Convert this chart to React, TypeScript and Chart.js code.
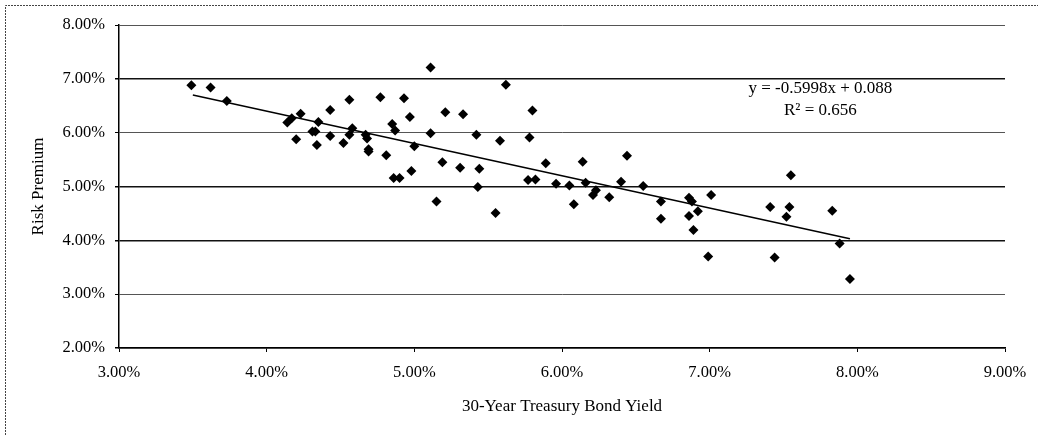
import React, { useEffect, useRef } from "react";
import { Chart, registerables } from "chart.js";

Chart.register(...registerables);

// Data (values in percent)
const bondYield = [
  3.49, 3.62, 3.73, 4.14, 4.17, 4.23, 4.2, 4.31, 4.33, 4.35, 4.34, 4.43, 4.43, 4.52, 4.56, 4.56,
  4.58, 4.67, 4.68, 4.69, 4.69, 4.77, 4.81, 4.85, 4.87, 4.93, 4.97, 5.0, 4.98, 4.86, 4.9, 5.11,
  5.11, 5.15, 5.19, 5.21, 5.31, 5.33, 5.42, 5.44, 5.43, 5.55, 5.58, 5.62, 5.78, 5.8, 5.77, 5.82,
  5.89, 5.96, 6.05, 6.08, 6.14, 6.16, 6.21, 6.23, 6.32, 6.4, 6.44, 6.55, 6.67, 6.67, 6.86, 6.88,
  6.92, 6.86, 6.89, 7.01, 6.99, 7.41, 7.44, 7.54, 7.52, 7.55, 7.83, 7.88, 7.95,
];
const riskPremium = [
  6.88, 6.84, 6.59, 6.19, 6.27, 6.35, 5.88, 6.02, 6.02, 6.2, 5.77, 6.42, 5.94, 5.81, 6.61, 5.96,
  6.08, 5.96, 5.89, 5.69, 5.65, 6.66, 5.58, 6.16, 6.04, 6.64, 6.29, 5.75, 5.29, 5.16, 5.16, 7.21,
  5.99, 4.72, 5.45, 6.38, 5.35, 6.34, 5.96, 5.33, 4.99, 4.51, 5.85, 6.89, 5.91, 6.41, 5.12, 5.13,
  5.43, 5.05, 5.02, 4.67, 5.46, 5.07, 4.84, 4.93, 4.8, 5.09, 5.57, 5.01, 4.72, 4.4, 4.79, 4.72,
  4.54, 4.45, 4.19, 4.84, 3.7, 4.62, 3.68, 4.62, 4.44, 5.21, 4.55, 3.94, 3.28,
];
const trendX = [3.5, 7.95];
const trendY = [6.7, 4.03];
const equationLines = ["y = -0.5998x + 0.088", "R² = 0.656"];
const xTitle = "30-Year Treasury Bond Yield";
const yTitle = "Risk Premium";

const FONT = "'Liberation Serif', 'Times New Roman', serif";

export default function App() {
  const ref = useRef<HTMLCanvasElement | null>(null);

  useEffect(() => {
    if (!ref.current) return;
    const points = bondYield.map((x, i) => ({ x, y: riskPremium[i] }));
    const trend = trendX.map((x, i) => ({ x, y: trendY[i] }));

    const framePlugin = {
      id: "frame",
      beforeDraw(chart: any) {
        const ctx = chart.ctx;
        ctx.save();
        ctx.fillStyle = "#fff";
        ctx.fillRect(0, 0, chart.width, chart.height);
        ctx.strokeStyle = "#444";
        ctx.lineWidth = 1;
        ctx.setLineDash([2, 1]);
        ctx.beginPath();
        ctx.moveTo(5.5, chart.height);
        ctx.lineTo(5.5, 5.5);
        ctx.lineTo(chart.width, 5.5);
        ctx.stroke();
        ctx.restore();
      },
      afterDraw(chart: any) {
        const ctx = chart.ctx;
        const xs = chart.scales.x;
        const ys = chart.scales.y;
        ctx.save();
        ctx.fillStyle = "#000";
        ctx.font = `17px ${FONT}`;
        ctx.textAlign = "center";
        ctx.textBaseline = "middle";
        const cx = xs.getPixelForValue(7.75);
        ctx.fillText(equationLines[0], cx, ys.getPixelForValue(6.82));
        ctx.fillText(equationLines[1], cx, ys.getPixelForValue(6.42));
        ctx.restore();
      },
    };

    const chart = new Chart(ref.current, {
      type: "scatter",
      data: {
        datasets: [
          {
            label: "Data",
            data: points,
            pointStyle: "rectRot",
            pointRadius: 5,
            pointBackgroundColor: "#000",
            pointBorderColor: "#000",
            pointBorderWidth: 0,
            order: 2,
          },
          {
            type: "line",
            label: "Trend",
            data: trend,
            borderColor: "#000",
            borderWidth: 1.5,
            pointRadius: 0,
            showLine: true,
            fill: false,
            order: 1,
          } as any,
        ],
      },
      options: {
        responsive: false,
        animation: false,
        layout: { padding: { top: 25, right: 33, left: 0, bottom: 0 } },
        plugins: {
          legend: { display: false },
          tooltip: { enabled: false },
        },
        scales: {
          x: {
            type: "linear",
            min: 3,
            max: 9,
            ticks: {
              stepSize: 1,
              color: "#000",
              font: { family: FONT, size: 16.5 },
              padding: 11,
              callback: (v: any) => Number(v).toFixed(2) + "%",
            },
            grid: {
              drawOnChartArea: false,
              drawTicks: true,
              tickLength: 4,
              tickColor: "#000",
            },
            border: { display: true, color: "#000", width: 1.5 },
            title: {
              display: true,
              text: xTitle,
              color: "#000",
              font: { family: FONT, size: 17 },
              padding: { top: 0, bottom: 18 },
            },
            afterFit: (s: any) => {
              s.height = 87;
            },
          },
          y: {
            type: "linear",
            min: 2,
            max: 8,
            ticks: {
              stepSize: 1,
              color: "#000",
              font: { family: FONT, size: 16.5 },
              padding: 10,
              callback: (v: any) => Number(v).toFixed(2) + "%",
            },
            grid: {
              drawTicks: true,
              tickLength: 4,
              tickColor: "#000",
              color: (c: any) => {
                const v = c.tick ? c.tick.value : 0;
                return v === 8 || v === 6 || v === 3 ? "#555" : "#111";
              },
              lineWidth: (c: any) => {
                const v = c.tick ? c.tick.value : 0;
                return v === 8 || v === 6 || v === 3 ? 1 : 1.5;
              },
            },
            border: { display: true, color: "#000", width: 1.5 },
            title: {
              display: true,
              text: yTitle,
              color: "#000",
              font: { family: FONT, size: 17 },
              padding: { top: 28, bottom: 0 },
            },
            afterFit: (s: any) => {
              s.width = 119;
            },
          },
        },
      },
      plugins: [framePlugin],
    });

    return () => chart.destroy();
  }, []);

  return (
    <div style={{ position: "absolute", left: 0, top: 0, width: 1038, height: 435 }}>
      <canvas ref={ref} width={1038} height={435} style={{ display: "block" }} />
    </div>
  );
}
